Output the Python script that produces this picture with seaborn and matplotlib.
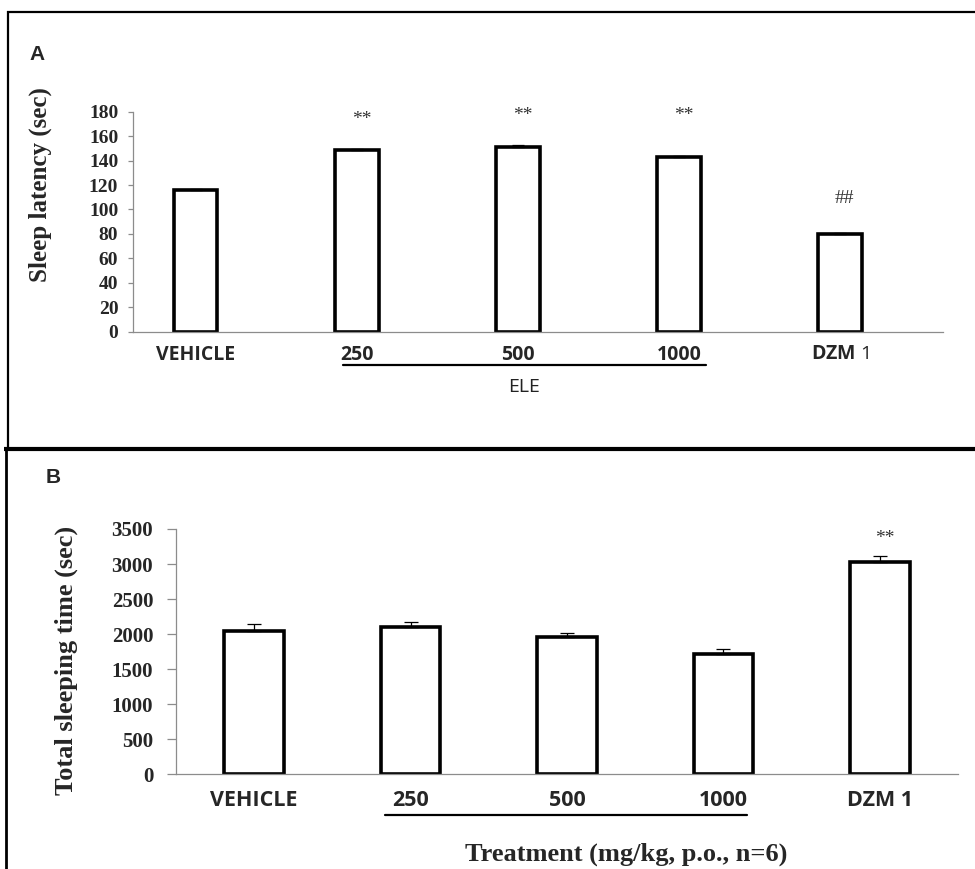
import matplotlib
matplotlib.use("Agg")
import matplotlib.pyplot as plt
from matplotlib.lines import Line2D
import numpy as np
import pandas as pd
import seaborn as sns

# ---------------- data ----------------
categories = ["VEHICLE", "250", "500", "1000", "DZM 1"]
latency = [116, 149, 151, 143, 80]
latency_err = [0.5, 0.5, 1.5, 0.5, 0.5]
sleep_time = [2050, 2095, 1955, 1720, 3035]
sleep_err = [90, 75, 60, 70, 75]
marks_a = ["", "**", "**", "**", "##"]
marks_a_y = [0, 170, 173, 173, 105]
marks_b = ["", "", "", "", "**"]
marks_b_y = [0, 0, 0, 0, 3300]
yticks_a = list(range(0, 181, 20))
yticks_b = list(range(0, 3501, 500))
xlabel_b = "Treatment (mg/kg, p.o., n=6)"
ylabel_a = "Sleep latency (sec)"
ylabel_b = "Total sleeping time (sec)"

sns.set_style("white")
plt.rcParams["mathtext.fontset"] = "custom"
plt.rcParams["mathtext.bf"] = "Open Sans:bold"
plt.rcParams["mathtext.rm"] = "Open Sans"

W, H = 975, 869
fig = plt.figure(figsize=(W / 100, H / 100), dpi=100)

SERIF = "Liberation Serif"
SANS = "Open Sans"
GRAY = "#8c8c8c"


def px(x, y):
    return x / W, 1 - y / H


def style_axes(ax, ylim, yticks, tick_len, ypad, ysize, xsize, xpad):
    ax.set_ylim(*ylim)
    ax.set_yticks(yticks)
    ax.set_yticklabels([str(t) for t in yticks], fontfamily=SERIF,
                       fontweight="bold", fontsize=ysize)
    for s in ["top", "right"]:
        ax.spines[s].set_visible(False)
    for s in ["left", "bottom"]:
        ax.spines[s].set_color(GRAY)
        ax.spines[s].set_linewidth(0.9)
    ax.tick_params(axis="y", length=tick_len, width=0.9, color=GRAY,
                   pad=ypad, left=True)
    ax.tick_params(axis="x", length=0, pad=xpad)
    for lab in ax.get_xticklabels():
        lab.set_fontfamily(SANS)
        lab.set_fontweight("bold")
        lab.set_fontsize(xsize)
    ax.set_xlabel("")
    ax.set_ylabel("")


# ---------------- panel A ----------------
axA = fig.add_axes([132.7 / W, 1 - 331.7 / H, 810.6 / W, 220 / H])
dfA = pd.DataFrame({"cat": categories, "val": latency})
sns.barplot(data=dfA, x="cat", y="val", ax=axA, color="white",
            edgecolor="black", linewidth=2.6, width=0.27, errorbar=None,
            saturation=1)
axA.errorbar(np.arange(len(categories)), latency,
             yerr=[np.zeros(len(categories)), latency_err], fmt="none",
             ecolor="black", elinewidth=0.9, capsize=4.5, capthick=0.9,
             zorder=3)
axA.set_xlim(-0.391, 4.641)
style_axes(axA, (0, 180), yticks_a, 3.6, 6.8, 14, 14, 9.5)
# DZM 1 : "DZM" bold, "1" regular
labsA = [t.get_text() for t in axA.get_xticklabels()]
labsA[-1] = r"$\mathbf{DZM}$ 1"
axA.set_xticks(range(len(categories)))
axA.set_xticklabels(labsA)
for i, lab in enumerate(axA.get_xticklabels()):
    lab.set_fontfamily(SANS)
    lab.set_fontsize(14)
    lab.set_fontweight("normal" if i == len(categories) - 1 else "bold")

for i, (m, y) in enumerate(zip(marks_a, marks_a_y)):
    if m:
        axA.text(i + 0.03, y, m, ha="center", va="baseline",
                 fontfamily=SERIF, fontsize=14, color="#333333")

# ELE underline + label
axA.plot([0.916, 3.168], [-0.151, -0.151], color="black", lw=1.6,
         transform=axA.get_xaxis_transform(), clip_on=False)
axA.text(2.038, -0.274, "ELE", ha="center", va="baseline",
         fontfamily=SANS, fontsize=14, color="#222222",
         transform=axA.get_xaxis_transform())

# ---------------- panel B ----------------
axB = fig.add_axes([176 / W, 1 - 774.3 / H, 782 / W, 245.3 / H])
dfB = pd.DataFrame({"cat": categories, "val": sleep_time})
sns.barplot(data=dfB, x="cat", y="val", ax=axB, color="white",
            edgecolor="black", linewidth=2.6, width=0.38, errorbar=None,
            saturation=1)
axB.errorbar(np.arange(len(categories)), sleep_time,
             yerr=[np.zeros(len(categories)), sleep_err], fmt="none",
             ecolor="black", elinewidth=0.9, capsize=4.8, capthick=0.9,
             zorder=3)
axB.set_xlim(-0.5, 4.5)
style_axes(axB, (0, 3500), yticks_b, 6.5, 9.9, 15, 15.5, 11.5)

for i, (m, y) in enumerate(zip(marks_b, marks_b_y)):
    if m:
        axB.text(i + 0.03, y, m, ha="center", va="baseline",
                 fontfamily=SERIF, fontsize=14, color="#333333")

axB.plot([0.836, 3.149], [-0.166, -0.166], color="black", lw=1.6,
         transform=axB.get_xaxis_transform(), clip_on=False)

# ---------------- labels ----------------
fig.text(*px(40, 185), ylabel_a, rotation=90, ha="center", va="center",
         fontfamily=SERIF, fontweight="bold", fontsize=18)
fig.text(*px(66, 660), ylabel_b, rotation=90, ha="center", va="center",
         fontfamily=SERIF, fontweight="bold", fontsize=19)
fig.text(*px(626, 861), xlabel_b, ha="center", va="baseline",
         fontfamily=SERIF, fontweight="bold", fontsize=19)
fig.text(*px(29, 60), "A", ha="left", va="baseline",
         fontfamily="Liberation Sans", fontweight="bold", fontsize=15)
fig.text(*px(46, 483), "B", ha="left", va="baseline",
         fontfamily="Liberation Sans", fontweight="bold", fontsize=15)

# ---------------- panel borders ----------------
def fline(x0, y0, x1, y1, lw):
    fig.add_artist(Line2D([x0 / W, x1 / W], [1 - y0 / H, 1 - y1 / H],
                          color="black", lw=lw, transform=fig.transFigure,
                          solid_capstyle="butt"))

fline(7, 12, 975, 12, 1.6)
fline(8.3, 11, 8.3, 449, 1.6)
fline(4, 448.7, 975, 448.7, 3.0)
fline(6, 448, 6, 869, 2.0)

fig.savefig("out.png", dpi=100)
